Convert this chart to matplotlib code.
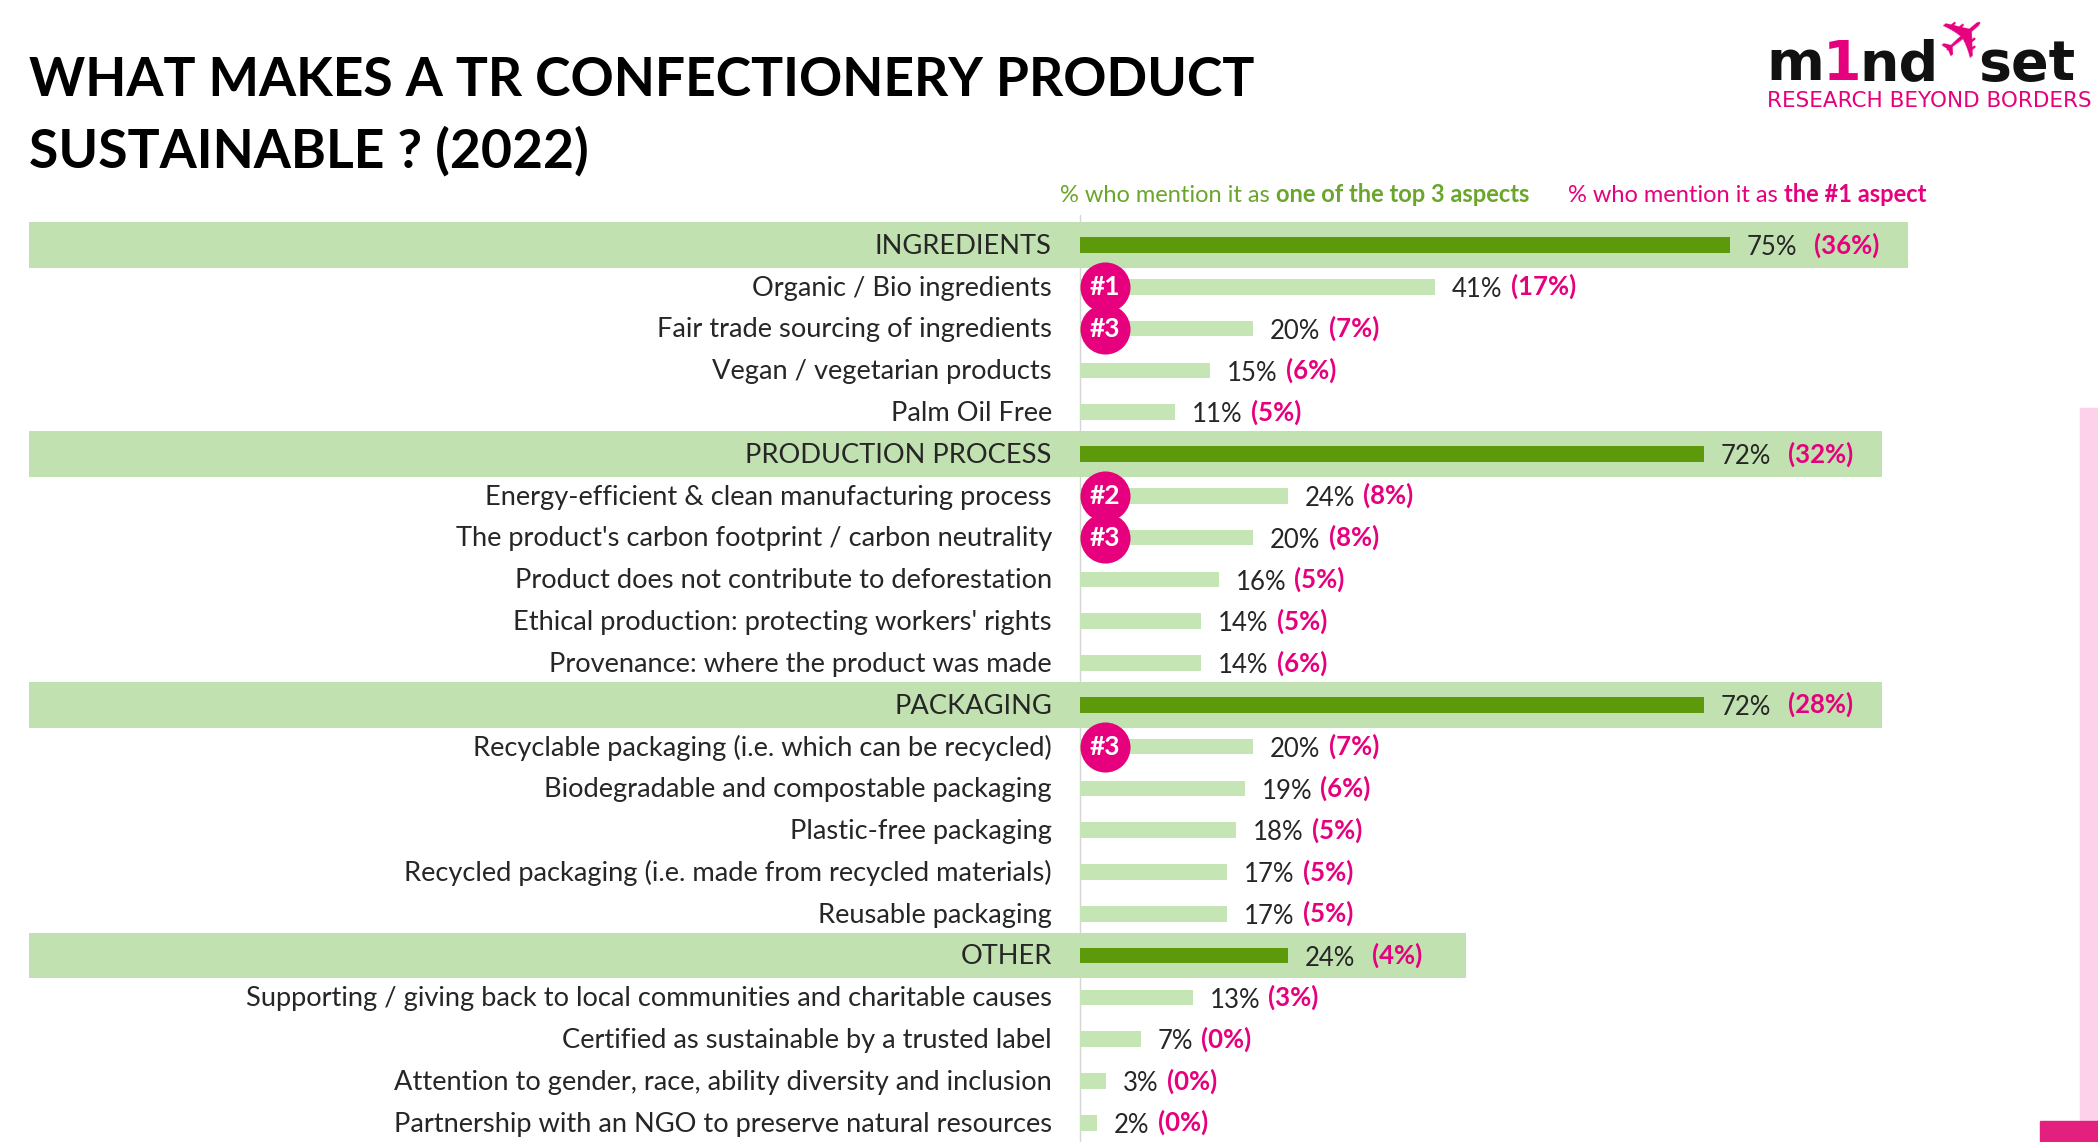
import matplotlib.pyplot as plt
from matplotlib.patches import Rectangle

W, H = 2098, 1142

# ---- data ----
labels = [
    "INGREDIENTS",
    "Organic / Bio ingredients",
    "Fair trade sourcing of ingredients",
    "Vegan / vegetarian products",
    "Palm Oil Free",
    "PRODUCTION PROCESS",
    "Energy-efficient & clean manufacturing process",
    "The product's carbon footprint / carbon neutrality",
    "Product does not contribute to deforestation",
    "Ethical production: protecting workers' rights",
    "Provenance: where the product was made",
    "PACKAGING",
    "Recyclable packaging (i.e. which can be recycled)",
    "Biodegradable and compostable packaging",
    "Plastic-free packaging",
    "Recycled packaging (i.e. made from recycled materials)",
    "Reusable packaging",
    "OTHER",
    "Supporting / giving back to local communities and charitable causes",
    "Certified as sustainable by a trusted label",
    "Attention to gender, race, ability diversity and inclusion",
    "Partnership with an NGO to preserve natural resources",
]
top3 = [75, 41, 20, 15, 11, 72, 24, 20, 16, 14, 14, 72, 20, 19, 18, 17, 17, 24, 13, 7, 3, 2]
first = [36, 17, 7, 6, 5, 32, 8, 8, 5, 5, 6, 28, 7, 6, 5, 5, 5, 4, 3, 0, 0, 0]
group_rows = [0, 5, 11, 17]
ranks = ["", "#1", "#3", "", "", "", "#2", "#3", "", "", "", "", "#3", "", "", "", "", "", "", "", "", ""]

# ---- colours ----
BAND = "#c1e1b1"
DARK = "#5c9a0b"
LIGHT = "#c6e5b5"
PINK = "#e6007e"
LEG_GREEN = "#6aa52c"
TXT = "#262626"

plt.rcParams['font.family'] = ['Lato', 'DejaVu Sans']

fig = plt.figure(figsize=(W / 100, H / 100), dpi=100)

# pixel geometry of the plot area
x0_px, zero_px, pct_px = 29, 1080, 8.67
top_px, row0_px, row_px = 215, 245, 41.8
ax = fig.add_axes([x0_px / W, 0, 1 - x0_px / W, (H - top_px) / H])
xmin = (x0_px - zero_px) / pct_px
ax.set_xlim(xmin, (W - zero_px) / pct_px)
ax.set_ylim((H - row0_px) / row_px, (top_px - row0_px) / row_px)
ax.axis('off')

rows = list(range(len(labels)))
is_group = [r in group_rows for r in rows]

# category bands
for g in group_rows:
    ax.barh(g, top3[g] + 20.5 - xmin, left=xmin, height=1.09, color=BAND, zorder=0)

ax.axvline(0, color="#d5d5d5", lw=1, zorder=-1)

# bars
ax.barh(rows, top3, height=0.37, color=[DARK if g else LIGHT for g in is_group], zorder=2)

# row labels and value labels
for i in rows:
    ax.text(-3.25, i + 0.03, labels[i], ha='right', va='center', fontsize=19.6, color=TXT)
    t = ax.annotate(f"{top3[i]}%", xy=(top3[i], i), xytext=(12, -2), textcoords='offset points',
                    va='center', ha='left', fontsize=18.5, color=TXT)
    ax.annotate(f"({first[i]}%)", xy=(1, 0.5), xycoords=t,
                xytext=(12 if is_group[i] else 6, 2), textcoords='offset points',
                va='center', ha='left', fontsize=18.5, color=PINK, weight='bold')

# rank badges
badge_rows = [i for i in rows if ranks[i]]
ax.scatter([2.9] * len(badge_rows), badge_rows, s=1300, color=PINK, zorder=4, linewidths=0)
for i in badge_rows:
    ax.text(2.9, i, ranks[i], ha='center', va='center', fontsize=19, color='white',
            weight='bold', zorder=5)

# legend line
t = fig.text(1060 / W, 1 - 196 / H, "% who mention it as ", fontsize=17, color=LEG_GREEN, va='center')
t = ax.annotate("one of the top 3 aspects", xy=(1, 0), xycoords=t, xytext=(0, 0),
                textcoords='offset points', fontsize=17, color=LEG_GREEN, weight='bold', va='bottom')
t = ax.annotate("% who mention it as ", xy=(1, 0), xycoords=t, xytext=(28, 0),
                textcoords='offset points', fontsize=17, color=PINK, va='bottom')
ax.annotate("the #1 aspect", xy=(1, 0), xycoords=t, xytext=(0, 0),
            textcoords='offset points', fontsize=17, color=PINK, weight='bold', va='bottom')

# title
fig.text(29 / W, 1 - 81 / H, "WHAT MAKES A TR CONFECTIONERY PRODUCT", fontsize=38.5,
         weight='bold', color='black', va='center')
fig.text(29 / W, 1 - 151 / H, "SUSTAINABLE ? (2022)", fontsize=38.5,
         weight='bold', color='black', va='center')

# logo
t = fig.text(1766 / W, 1 - 80 / H, "m", fontsize=40, weight='heavy', color='#111111',
             family='DejaVu Sans', va='baseline')
t = ax.annotate("1", xy=(1, 0), xycoords=t, xytext=(-1, 0), textcoords='offset points',
                fontsize=40, weight='heavy', color=PINK, family='DejaVu Sans', va='bottom')
t = ax.annotate("nd", xy=(1, 0), xycoords=t, xytext=(-1, 0), textcoords='offset points',
                fontsize=40, weight='heavy', color='#111111', family='DejaVu Sans', va='bottom')
ax.annotate("\u2708", xy=(1, 0), xycoords=t, xytext=(-8, 10), textcoords='offset points',
            fontsize=44, color=PINK, family='DejaVu Sans', va='bottom', rotation=40)
ax.annotate("set", xy=(1, 0), xycoords=t, xytext=(28, 0), textcoords='offset points',
            fontsize=40, weight='heavy', color='#111111', family='DejaVu Sans', va='bottom')
fig.text(1767 / W, 1 - 101 / H, "RESEARCH BEYOND BORDERS", fontsize=15.5, color=PINK,
         family='DejaVu Sans', va='center')

# right edge decoration
fig.patches.append(Rectangle((2080 / W, 21 / H), 18 / W, (1121 - 408) / H,
                             transform=fig.transFigure, color="#fdd1ea", zorder=-1))
fig.patches.append(Rectangle((2040 / W, 0), 58 / W, 21 / H,
                             transform=fig.transFigure, color="#e4207f", zorder=-1))

fig.savefig("out.png", dpi=100)
